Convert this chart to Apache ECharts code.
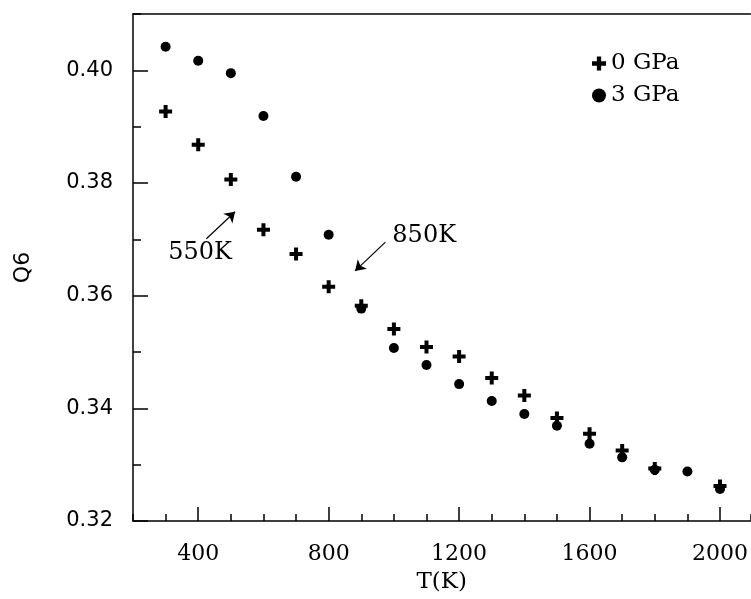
<!DOCTYPE html>
<html>
<head>
<meta charset="utf-8">
<script src="https://cdn.jsdelivr.net/npm/echarts@6/dist/echarts.min.js"></script>
<style>
  html, body { margin: 0; padding: 0; background: #fff; }
  #main { width: 751px; height: 599px; }
</style>
</head>
<body>
<div id="main"></div>
<script>
   // ====== data ======
   var temps_0 = [300, 400, 500, 600, 700, 800, 900, 1000, 1100, 1200, 1300, 1400, 1500, 1600, 1700, 1800, 2000];
   var q6_0    = [0.3927, 0.3868, 0.3806, 0.3717, 0.3674, 0.3616, 0.3582, 0.3541, 0.3509, 0.3492, 0.3454, 0.3423, 0.3383, 0.3355, 0.3325, 0.3293, 0.3262];
   var temps_3 = [300, 400, 500, 600, 700, 800, 900, 1000, 1100, 1200, 1300, 1400, 1500, 1600, 1700, 1800, 1900, 2000];
   var q6_3    = [0.4042, 0.4017, 0.3995, 0.3919, 0.3811, 0.3708, 0.3577, 0.3507, 0.3477, 0.3443, 0.3413, 0.3390, 0.3369, 0.3337, 0.3313, 0.3291, 0.3288, 0.3257];
   var xTicks = [400, 800, 1200, 1600, 2000];
   var yTicks = [0.32, 0.34, 0.36, 0.38, 0.40];
   var names  = ['0 GPa', '3 GPa'];
   // annotation arrows: [from, to] and the label spot
   var note550 = { from: [425, 0.3701], to: [513, 0.3749], text: [406, 0.3677], label: '550K' };
   var note850 = { from: [974, 0.3695], to: [881, 0.3644], text: [1093, 0.3707], label: '850K' };

   var plusPath = 'path://M4.5,0H8.5V4.5H13V8.5H8.5V13H4.5V8.5H0V4.5H4.5Z';
   var serif = 'DejaVu Serif';
   var sans = 'DejaVu Sans';
   var xMin = 200, xMax = 2093;   // the picture is cut off just before 2100

   function pairs(xs, ys) {
     var out = [];
     for (var i = 0; i < xs.length; i++) out.push([xs[i], ys[i]]);
     return out;
   }

   var chart = echarts.init(document.getElementById('main'));
   var option = {
     animation: false,
     backgroundColor: '#fff',
     grid: { left: 133, top: 14, right: 0, bottom: 73 },
     legend: {
       orient: 'vertical',
       left: 587, top: 47,
       itemWidth: 14, itemHeight: 14,
       itemGap: 9,
       textStyle: { fontFamily: serif, fontSize: 23, color: '#000', lineHeight: 23 },
       data: names
     },
     xAxis: [
       {
         type: 'value', min: xMin, max: xMax,
         name: 'T(K)', nameLocation: 'middle', nameGap: 50,
         nameTextStyle: { fontFamily: serif, fontSize: 23, color: '#000' },
         splitLine: { show: false },
         axisLine: { lineStyle: { color: '#000', width: 1.5 } },
         axisTick: { inside: true, length: 14, customValues: xTicks, lineStyle: { color: '#000', width: 1.5 } },
         axisLabel: {
           customValues: xTicks, margin: 22, fontFamily: serif, fontSize: 22, color: '#000',
           showMaxLabel: true,
           formatter: function (v) { return String(v); }
         }
       },
       {
         type: 'value', min: xMin, max: xMax, interval: 100, position: 'bottom',
         splitLine: { show: false },
         axisLine: { show: false },
         axisTick: { inside: true, length: 7, lineStyle: { color: '#000', width: 1.5 } },
         axisLabel: { show: false }
       },
       {
         // top frame line only
         type: 'value', min: xMin, max: xMax, position: 'top',
         splitLine: { show: false },
         axisLine: { lineStyle: { color: '#000', width: 1.5 } },
         axisTick: { show: false },
         axisLabel: { show: false }
       }
     ],
     yAxis: [
       {
         type: 'value', min: 0.32, max: 0.41,
         name: 'Q6', nameLocation: 'middle', nameGap: 99, nameRotate: 90,
         nameTextStyle: { fontFamily: sans, fontSize: 22, color: '#000' },
         splitLine: { show: false },
         axisLine: { lineStyle: { color: '#000', width: 1.5 } },
         axisTick: { inside: true, length: 15, customValues: yTicks, lineStyle: { color: '#000', width: 1.5 } },
         axisLabel: {
           customValues: yTicks, margin: 20, fontFamily: sans, fontSize: 21, color: '#000',
           formatter: function (v) { return v.toFixed(2); }
         }
       },
       {
         type: 'value', min: 0.32, max: 0.41, interval: 0.01, position: 'left',
         splitLine: { show: false },
         axisLine: { show: false },
         axisTick: { inside: true, length: 8, lineStyle: { color: '#000', width: 1.5 } },
         axisLabel: { show: false }
       }
     ],
     series: [
       {
         name: names[1],
         type: 'scatter',
         symbol: 'circle',
         symbolSize: 10,
         itemStyle: { color: '#000', opacity: 1 },
         data: pairs(temps_3, q6_3),
         markLine: {
           silent: true,
           symbol: ['none', 'arrow'],
           symbolSize: 10,
           lineStyle: { color: '#000', width: 1.2, type: 'solid' },
           label: { show: false },
           data: [
             [{ coord: note550.from }, { coord: note550.to }],
             [{ coord: note850.from }, { coord: note850.to }]
           ]
         },
         markPoint: {
           silent: true,
           symbol: 'circle', symbolSize: 0,
           label: {
             show: true, position: 'inside',
             fontFamily: serif, fontSize: 24, color: '#000',
             formatter: function (p) { return p.name; }
           },
           data: [
             { name: note550.label, coord: note550.text },
             { name: note850.label, coord: note850.text }
           ]
         }
       },
       {
         name: names[0],
         type: 'scatter',
         symbol: plusPath,
         symbolSize: 13,
         itemStyle: { color: '#000', opacity: 1 },
         data: pairs(temps_0, q6_0)
       }
     ]
   };
   chart.setOption(option);
</script>
</body>
</html>
